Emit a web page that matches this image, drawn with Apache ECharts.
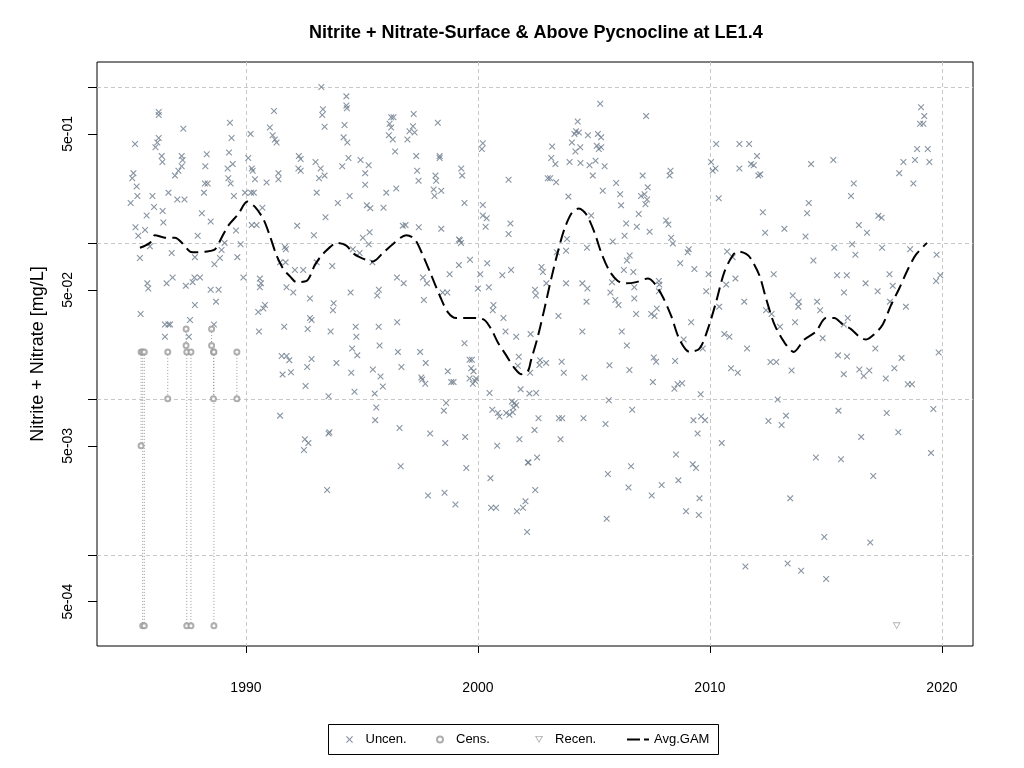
<!DOCTYPE html>
<html>
<head>
<meta charset="utf-8">
<script src="https://cdn.jsdelivr.net/npm/echarts@6/dist/echarts.min.js"></script>
<style>
  html, body { margin: 0; padding: 0; background: #fff; }
  #main { width: 1024px; height: 768px; }
</style>
</head>
<body>
<div id="main"></div>
<script>
// uncensored samples [year, mg/L]
var uncenPoints = [
  [1986.24,0.69],[1986.24,0.66],[1987.30,0.54],[1985.22,0.43],[1989.31,0.59],[1991.21,0.70],[1990.20,0.50],[1989.38,0.47],
  [1991.03,0.55],[1991.15,0.49],[1991.25,0.46],[1991.32,0.44],[1986.24,0.47],[1986.18,0.44],[1986.10,0.41],
  [1986.37,0.36],[1986.40,0.33],[1987.23,0.36],[1987.27,0.34],[1987.23,0.31],[1987.09,0.29],[1986.94,0.27],
  [1988.31,0.37],[1988.25,0.31],[1988.23,0.24],[1988.35,0.24],[1988.19,0.21],
  [1989.27,0.38],[1989.21,0.30],[1989.43,0.32],[1989.24,0.26],[1989.34,0.24],
  [1985.15,0.28],[1985.10,0.26],[1985.29,0.23],[1985.03,0.18],[1985.32,0.20],[1985.97,0.20],[1986.04,0.17],
  [1986.66,0.21],[1987.04,0.19],[1987.35,0.19],[1986.41,0.16],[1985.72,0.15],[1986.44,0.135],
  [1985.24,0.126],[1985.65,0.121],[1985.36,0.111],[1988.10,0.155],[1988.48,0.137],
  [1989.48,0.20],[1989.96,0.21],[1990.22,0.21],[1990.34,0.21],[1989.57,0.12],[1990.25,0.13],[1990.46,0.13],[1990.71,0.168],
  [1992.21,0.129],[1992.93,0.112],[1992.28,0.36],[1992.36,0.345],[1992.26,0.30],[1992.36,0.29],[1993.00,0.33],[1993.05,0.21],
  [1991.40,0.28],[1991.40,0.256],[1990.89,0.244],[1990.39,0.256],[1990.25,0.30],[1990.29,0.29],[1990.10,0.35],
  [1987.92,0.111],[1989.08,0.10],[1989.77,0.098],[1985.43,0.080],[1985.86,0.095],[1986.80,0.086],[1987.80,0.081],
  [1988.64,0.073],[1988.88,0.080],[1988.95,0.090],[1989.63,0.081],[1991.68,0.094],[1991.72,0.091],[1991.47,0.075],
  [1991.71,0.075],[1992.11,0.067],[1992.47,0.067],[1993.05,0.075],[1989.89,0.060],[1990.60,0.059],[1990.65,0.055],
  [1990.60,0.052],[1985.75,0.055],[1985.79,0.051],[1986.58,0.055],[1986.84,0.060],[1987.41,0.053],[1987.70,0.056],
  [1987.78,0.060],[1988.02,0.060],[1988.48,0.050],[1988.82,0.050],[1988.71,0.042],[1987.80,0.040],[1985.46,0.035],
  [1991.75,0.052],[1992.04,0.048],[1992.76,0.044],[1992.76,0.033],[1992.83,0.032],[1992.66,0.028],
  [1990.53,0.036],[1990.75,0.038],[1990.82,0.040],[1991.65,0.029],[1990.56,0.027],
  [1986.51,0.030],[1986.66,0.030],[1986.73,0.030],[1987.59,0.032],[1987.54,0.025],[1986.51,0.025],[1988.62,0.030],
  [1991.54,0.0188],[1991.75,0.0188],[1991.87,0.0177],[1992.83,0.018],[1992.64,0.016],[1991.58,0.0143],[1991.94,0.0148],
  [1992.57,0.0121],[1991.47,0.0078],[1992.54,0.0055],[1992.69,0.0052],[1992.50,0.0047],
  [1993.25,1.0],[1994.33,0.87],[1994.33,0.76],[1994.35,0.73],[1993.32,0.72],[1993.29,0.66],[1993.39,0.555],[1994.25,0.57],
  [1996.26,0.64],[1996.36,0.64],[1996.19,0.58],[1996.26,0.55],[1996.16,0.49],[1996.33,0.46],
  [1997.23,0.67],[1997.20,0.56],[1997.05,0.52],[1997.27,0.51],[1996.96,0.46],
  [1998.27,0.59],[1994.21,0.475],[1994.37,0.44],[1996.43,0.385],[1993.22,0.30],[1993.15,0.26],[1993.39,0.27],
  [1994.15,0.31],[1994.42,0.35],[1994.94,0.34],[1995.29,0.315],[1995.14,0.28],[1995.14,0.236],
  [1997.34,0.36],[1997.38,0.29],[1997.44,0.25],[1998.35,0.36],[1998.35,0.35],
  [1998.17,0.27],[1998.20,0.25],[1998.09,0.22],[1998.13,0.20],[1998.42,0.216],[1999.28,0.30],[1999.32,0.27],
  [2000.21,0.435],[2000.17,0.40],[2001.32,0.254],[1994.47,0.20],[1993.96,0.18],[1995.21,0.174],[1995.36,0.167],
  [1995.93,0.168],[1996.05,0.21],[1996.48,0.223],[1999.42,0.18],[2000.21,0.175],[2000.21,0.15],[2000.38,0.144],
  [2000.33,0.127],[2001.40,0.133],[2001.32,0.114],[1993.43,0.146],[1996.76,0.129],[1996.88,0.13],[1997.45,0.126],
  [1998.42,0.123],[1995.04,0.108],[1995.33,0.117],[1995.29,0.098],[1999.18,0.105],[1999.27,0.10],[1999.22,0.104],
  [1994.61,0.091],[1994.90,0.086],[1995.45,0.075],[1993.72,0.071],[1999.18,0.072],[1999.66,0.078],[2000.40,0.074],
  [2001.43,0.067],[2001.05,0.062],[1998.78,0.063],[2000.10,0.063],[1996.51,0.060],[1996.80,0.055],[1997.63,0.060],
  [1997.80,0.055],[1994.51,0.048],[1995.73,0.050],[1995.66,0.046],[1998.48,0.048],[1998.68,0.048],
  [2000.00,0.051],[2000.47,0.052],[1997.67,0.043],[1993.78,0.041],[1993.75,0.037],
  [2000.67,0.040],[2000.64,0.037],[2001.10,0.033],[2001.19,0.027],[2001.65,0.025],
  [1993.65,0.027],[1994.73,0.029],[1994.76,0.025],[1995.72,0.029],[1996.52,0.031],
  [1994.58,0.021],[1994.80,0.019],[1995.76,0.022],[1996.55,0.020],[1997.51,0.020],
  [1999.42,0.0227],[1999.64,0.0178],[1999.74,0.0178],[2001.76,0.0186],
  [1993.90,0.017],[1994.54,0.0147],[1995.47,0.0154],[1995.80,0.0139],[1995.90,0.012],[1994.68,0.0111],[1995.55,0.0108],
  [1996.70,0.016],[1997.75,0.017],[1997.56,0.0137],[1997.60,0.0133],[1997.73,0.0125],
  [1998.70,0.015],[1998.85,0.0128],[1998.95,0.0128],[1999.71,0.0157],[1999.81,0.015],[1999.64,0.0135],
  [1999.92,0.0135],[1999.78,0.0125],[1999.88,0.013],[1993.56,0.0104],[1998.63,0.0094],[1998.53,0.0084],
  [1995.62,0.0088],[1995.57,0.0073],[1993.60,0.0061],[1993.56,0.0060],[1996.62,0.0065],[1997.94,0.0060],
  [1998.59,0.0052],[1999.45,0.0057],[1996.67,0.0037],[1999.50,0.0036],[1993.50,0.0026],[1997.85,0.0024],
  [1998.56,0.0025],[1999.03,0.0021],[2000.50,0.0109],
  [2000.62,0.0085],[2000.86,0.0081],[2000.93,0.0077],[2001.22,0.0081],[2001.36,0.0079],[2001.50,0.0082],
  [2001.53,0.0088],[2001.58,0.0094],[2001.65,0.0091],[2001.46,0.0096],
  [2000.83,0.0050],[2001.79,0.0055],[2002.15,0.0039],[2000.54,0.0031],[2000.57,0.0020],[2000.78,0.0020],
  [2001.68,0.0019],[2001.94,0.0020],[2002.05,0.0022],[2002.12,0.0014],[2001.72,0.0163],[2001.84,0.0115],
  [2005.27,0.78],[2007.25,0.65],[2004.30,0.60],[2004.23,0.52],[2004.16,0.50],[2004.35,0.51],[2004.05,0.44],
  [2004.20,0.385],[2004.41,0.41],[2004.74,0.49],[2005.17,0.50],[2005.31,0.475],[2005.12,0.42],[2005.31,0.41],
  [2005.21,0.40],[2003.20,0.415],[2003.16,0.35],[2003.34,0.32],[2003.95,0.33],[2004.42,0.325],[2004.81,0.315],
  [2005.07,0.336],[2005.46,0.31],[2004.95,0.27],[2003.01,0.26],[2003.11,0.26],[2003.37,0.245],
  [2003.90,0.198],[2005.38,0.216],[2005.96,0.242],[2006.13,0.205],[2006.17,0.174],
  [2007.10,0.27],[2007.32,0.227],[2007.03,0.20],[2007.18,0.205],[2007.29,0.19],[2007.22,0.177],
  [2008.30,0.29],[2008.26,0.27],[2004.88,0.15],[2006.93,0.153],[2006.39,0.133],[2006.85,0.127],[2007.40,0.118],
  [2006.32,0.111],[2008.11,0.139],[2008.21,0.131],[2008.33,0.108],[2008.40,0.099],
  [2003.84,0.106],[2003.80,0.089],[2003.40,0.087],[2004.70,0.093],[2005.81,0.102],[2009.09,0.091],[2009.04,0.087],
  [2010.27,0.43],[2010.05,0.33],[2010.24,0.30],[2010.12,0.29],[2010.38,0.193],[2011.27,0.43],[2011.27,0.30],
  [2006.54,0.083],[2006.42,0.077],[2006.29,0.067],[2006.70,0.065],[2008.72,0.074],[2009.33,0.068],[2009.94,0.063],
  [2002.74,0.070],[2002.80,0.065],[2002.95,0.055],[2003.80,0.055],[2004.50,0.055],[2004.72,0.051],
  [2005.78,0.056],[2005.71,0.048],[2006.74,0.052],[2006.74,0.044],[2007.80,0.057],[2007.82,0.054],[2007.80,0.049],
  [2009.84,0.049],[2002.46,0.050],[2002.50,0.046],[2004.68,0.042],[2005.92,0.043],[2006.06,0.040],
  [2010.74,0.088],[2010.98,0.081],[2011.10,0.059],[2010.70,0.054],[2010.40,0.039],[2011.48,0.042],
  [2003.47,0.034],[2006.82,0.035],[2007.47,0.035],[2007.61,0.034],[2007.71,0.038],
  [2009.19,0.031],[2002.27,0.026],[2004.50,0.027],[2006.20,0.027],[2006.42,0.022],
  [2010.62,0.026],[2010.84,0.025],[2008.87,0.024],[2009.69,0.021],[2011.60,0.021],
  [2002.68,0.0177],[2002.65,0.0165],[2002.94,0.017],[2002.25,0.0147],[2003.61,0.0173],[2003.70,0.0147],
  [2004.59,0.0137],[2005.67,0.0164],[2006.53,0.0153],[2007.58,0.0184],[2007.68,0.0173],[2008.50,0.0175],
  [2007.54,0.0128],[2008.47,0.0116],[2008.61,0.0124],[2008.80,0.0126],[2009.60,0.0107],[2010.91,0.0157],[2011.20,0.0147],
  [2002.22,0.0108],[2002.51,0.0109],[2005.64,0.0098],[2006.65,0.0085],[2002.61,0.0075],[2003.49,0.0075],
  [2003.63,0.0075],[2004.55,0.0075],[2005.50,0.0069],[2002.44,0.0063],[2003.56,0.0055],
  [2009.62,0.0077],[2009.79,0.0073],[2009.29,0.0073],[2009.47,0.0060],[2010.51,0.0052],
  [2002.18,0.0039],[2002.55,0.0042],[2008.54,0.0044],[2009.26,0.0038],[2009.40,0.0036],[2006.60,0.0037],[2005.60,0.0033],
  [2002.47,0.0026],[2006.49,0.0027],[2007.92,0.0028],[2008.64,0.0030],[2007.49,0.0024],[2009.55,0.0023],
  [2008.97,0.0019],[2009.52,0.0018],[2005.55,0.0017],[2011.53,0.00084],
  [2019.10,0.74],[2019.24,0.65],[2019.06,0.58],[2019.20,0.58],[2018.93,0.40],[2019.39,0.40],
  [2018.34,0.33],[2018.84,0.34],[2019.46,0.33],[2018.16,0.28],[2018.77,0.24],[2011.69,0.43],
  [2012.03,0.36],[2011.77,0.32],[2011.89,0.315],[2012.09,0.27],[2012.17,0.275],
  [2014.36,0.32],[2015.32,0.34],[2016.20,0.24],[2016.08,0.20],[2014.26,0.18],[2014.19,0.155],[2012.28,0.157],
  [2012.38,0.116],[2013.21,0.123],[2014.12,0.11],[2016.42,0.13],[2016.77,0.116],[2017.26,0.149],[2017.40,0.145],
  [2015.36,0.093],[2016.13,0.098],[2016.27,0.084],[2017.42,0.093],[2018.63,0.091],
  [2019.77,0.084],[2019.93,0.062],[2019.75,0.057],[2014.46,0.077],[2012.75,0.063],[2015.48,0.062],[2015.90,0.062],
  [2017.74,0.063],[2017.88,0.053],[2017.23,0.049],[2016.71,0.055],[2015.78,0.048],[2013.57,0.046],[2013.83,0.042],
  [2013.81,0.039],[2014.62,0.042],[2014.75,0.037],[2017.76,0.042],[2018.45,0.039],
  [2012.42,0.037],[2012.66,0.035],[2015.94,0.033],[2015.77,0.030],[2013.67,0.031],[2013.02,0.029],[2014.86,0.0245],
  [2017.13,0.021],[2015.52,0.019],[2015.91,0.0187],[2018.26,0.0183],[2019.86,0.0198],
  [2012.61,0.0172],[2012.86,0.0172],[2013.52,0.0152],[2015.77,0.0144],[2016.44,0.0154],[2016.87,0.0152],
  [2016.63,0.014],[2017.95,0.0157],[2017.58,0.0135],[2018.53,0.0124],[2018.71,0.0124],
  [2012.92,0.0099],[2013.28,0.0078],[2012.52,0.0072],[2013.09,0.0068],[2015.54,0.0084],[2017.62,0.0081],[2019.63,0.0086],
  [2018.12,0.0061],[2016.52,0.0057],[2019.53,0.0045],[2014.57,0.0042],[2015.65,0.0041],[2017.04,0.0032],[2013.46,0.0023],
  [2014.93,0.0013],[2016.91,0.0012],[2013.35,0.00088],[2013.93,0.00079],[2015.01,0.00070]
];

// censored samples: upper and lower bound
var censYear = [1985.48, 1985.55, 1985.62, 1986.63, 1987.42, 1987.45, 1987.63, 1988.52, 1988.60, 1988.62, 1989.61];
var censHigh = [0.020, 0.020, 0.020, 0.020, 0.028, 0.020, 0.020, 0.028, 0.020, 0.020, 0.020];
var censLow  = [0.005, 0.00035, 0.00035, 0.010, 0.022, 0.00035, 0.00035, 0.022, 0.010, 0.00035, 0.010];

// recensored
var recenPoints = [[2018.05, 0.00035]];

// GAM fit
var gamYear = [1985.43,1985.86,1986.08,1986.51,1986.94,1987.30,1987.59,1987.88,1988.31,1988.67,
  1988.95,1989.24,1989.67,1990.06,1990.39,1990.75,1991.03,1991.32,1991.61,1991.90,
  1992.18,1992.62,1992.97,1993.32,1993.96,1994.33,1994.61,1994.90,1995.47,1995.90,
  1996.33,1996.91,1997.27,1997.63,1997.99,1998.35,1998.70,1999.06,1999.50,1999.93,
  2000.28,2000.57,2000.86,2001.22,2001.58,2001.86,2002.15,2002.29,2002.58,2002.87,
  2003.16,2003.44,2003.73,2004.06,2004.35,2004.66,2005.02,2005.31,2005.67,2006.03,
  2006.39,2006.82,2007.32,2007.61,2007.97,2008.33,2008.69,2009.12,2009.55,2009.91,
  2010.27,2010.62,2010.98,2011.20,2011.56,2011.77,2012.13,2012.42,2012.78,2013.21,
  2013.61,2014.07,2014.57,2015.00,2015.36,2015.72,2016.08,2016.44,2016.73,2017.09,
  2017.45,2017.81,2018.16,2018.52,2018.88,2019.36];
var gamValue = [0.093,0.100,0.112,0.108,0.108,0.098,0.088,0.087,0.088,0.091,
  0.108,0.129,0.153,0.184,0.170,0.142,0.111,0.083,0.068,0.061,
  0.056,0.057,0.072,0.085,0.100,0.096,0.086,0.081,0.076,0.086,
  0.098,0.112,0.106,0.083,0.062,0.046,0.036,0.033,0.033,0.033,
  0.032,0.028,0.023,0.019,0.0157,0.0144,0.0150,0.0177,0.025,0.038,
  0.059,0.087,0.123,0.157,0.166,0.153,0.117,0.087,0.066,0.057,
  0.055,0.056,0.059,0.055,0.045,0.034,0.024,0.020,0.021,0.028,
  0.042,0.065,0.083,0.088,0.085,0.079,0.062,0.044,0.030,0.023,
  0.020,0.024,0.027,0.033,0.033,0.030,0.028,0.025,0.024,0.026,
  0.030,0.040,0.051,0.067,0.084,0.100];

var xTicks = [1990, 2000, 2010, 2020];
var yGridTicks = [0.001, 0.01, 0.1, 1];
var yLabelTicks = [0.0005, 0.005, 0.05, 0.5];

var FONT = '"Liberation Sans", Arial, sans-serif';
var GRIDLINE = {color: '#c8c8c8', type: [4, 3], width: 1};
var X_SYMBOL = 'path://M0,1.2L1.2,0L5,3.8L8.8,0L10,1.2L6.2,5L10,8.8L8.8,10L5,6.2L1.2,10L0,8.8L3.8,5Z';
var TRI_ICON = 'path://M0,0L10,0L5,8.66Z M1.8,1L5,6.6L8.2,1Z';
var GAM_ICON = 'path://M0,0L13,0L13,2L0,2Z M17,0L22,0L22,2L17,2Z';

var myChart = echarts.init(document.getElementById('main'));

function sciLabel(v) {
  var e = Math.round(Math.log10(v / 5));
  var a = Math.abs(e);
  return '5e' + (e < 0 ? '-' : '+') + (a < 10 ? '0' : '') + a;
}

// one legend per entry so the columns sit where R put them
function legendItem(name, left, itemHeight, icon) {
  var item = {name: name};
  if (icon) item.icon = icon;
  return {
    left: left, top: 733, padding: 0,
    itemWidth: 22, itemHeight: itemHeight,
    selectedMode: false,
    textStyle: {fontFamily: FONT, fontSize: 13, color: '#000'},
    data: [item]
  };
}

var censPts = [];
censYear.forEach(function (x, i) {
  censPts.push([x, censHigh[i]]);
  censPts.push([x, censLow[i]]);
});

var option = {
  animation: false,
  backgroundColor: '#fff',
  title: {
    text: 'Nitrite + Nitrate-Surface & Above Pycnocline at LE1.4',
    left: 304,
    top: 19,
    textStyle: {fontFamily: FONT, fontSize: 18, fontWeight: 'bold', color: '#000'}
  },
  grid: {
    left: 97, right: 51, top: 62, bottom: 122,
    show: true, borderColor: '#000', borderWidth: 1, backgroundColor: 'transparent'
  },
  graphic: [{
    type: 'rect',
    shape: {x: 328.5, y: 724.5, width: 390, height: 30},
    style: {fill: 'none', stroke: '#000', lineWidth: 1},
    silent: true
  }],
  legend: [
    legendItem('Uncen.', 346, 7),
    legendItem('Cens.', 436, 6),
    legendItem('Recen.', 535, 7, TRI_ICON),
    legendItem('Avg.GAM', 627, 7, GAM_ICON)
  ],
  xAxis: {
    type: 'value',
    min: 1983.58,
    max: 2021.34,
    axisLine: {show: false},
    axisTick: {show: true, length: 7, customValues: xTicks, lineStyle: {color: '#000'}},
    axisLabel: {
      customValues: xTicks, margin: 35, fontSize: 14, color: '#000', fontFamily: FONT,
      formatter: function (v) { return String(Math.round(v)); }
    },
    splitLine: {show: true, lineStyle: GRIDLINE}
  },
  yAxis: [{
    type: 'log', logBase: 10, min: 2.6e-4, max: 1.445, position: 'left',
    axisLine: {show: false},
    axisTick: {show: true, length: 9, customValues: yGridTicks, lineStyle: {color: '#000'}},
    axisLabel: {show: false},
    splitLine: {show: true, lineStyle: GRIDLINE}
  }, {
    type: 'log', logBase: 10, min: 2.6e-4, max: 1.445, position: 'left',
    axisLine: {show: false},
    axisTick: {show: true, length: 9, customValues: yLabelTicks, lineStyle: {color: '#000'}},
    axisLabel: {
      customValues: yLabelTicks, rotate: 90, margin: 22,
      fontSize: 14, color: '#000', fontFamily: FONT, formatter: sciLabel
    },
    splitLine: {show: false},
    name: 'Nitrite + Nitrate [mg/L]',
    nameLocation: 'middle', nameRotate: 90, nameGap: 50,
    nameTextStyle: {fontSize: 18, color: '#000', fontFamily: FONT}
  }],
  series: [{
    name: 'censLines',
    type: 'custom',
    silent: true,
    z: 1,
    data: censYear.map(function (x, i) { return [x, censHigh[i], censLow[i]]; }),
    encode: {x: 0, y: [1, 2]},
    renderItem: function (params, api) {
      var p1 = api.coord([api.value(0), api.value(1)]);
      var p2 = api.coord([api.value(0), api.value(2)]);
      return {
        type: 'line',
        shape: {x1: p1[0], y1: p1[1], x2: p2[0], y2: p2[1]},
        style: {stroke: '#9a9a9a', lineWidth: 1, lineDash: [1, 2]}
      };
    }
  }, {
    name: 'Uncen.',
    type: 'scatter',
    z: 2,
    symbol: X_SYMBOL,
    symbolSize: 6.5,
    itemStyle: {color: '#6C7B8B'},
    data: uncenPoints
  }, {
    name: 'Cens.',
    type: 'scatter',
    z: 2,
    symbol: 'emptyCircle',
    symbolSize: 5,
    itemStyle: {color: '#9a9a9a', borderWidth: 1},
    data: censPts
  }, {
    name: 'Recen.',
    type: 'scatter',
    z: 2,
    symbol: TRI_ICON,
    symbolSize: [8, 7],
    itemStyle: {color: '#9a9a9a'},
    data: recenPoints
  }, {
    name: 'Avg.GAM',
    type: 'line',
    z: 3,
    smooth: 0.3,
    showSymbol: false,
    symbol: 'none',
    lineStyle: {color: '#000', width: 2, type: [13, 6]},
    itemStyle: {color: '#000'},
    data: gamYear.map(function (x, i) { return [x, gamValue[i]]; })
  }]
};

myChart.setOption(option);
</script>
</body>
</html>
